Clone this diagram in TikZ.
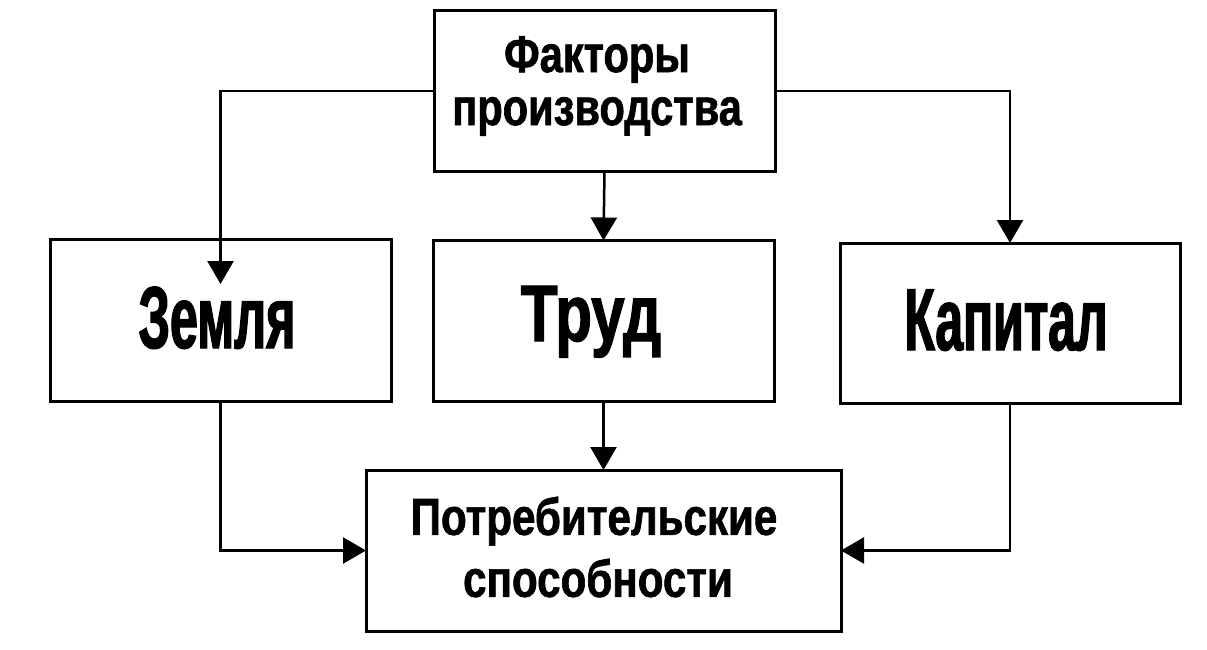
\documentclass[tikz,border=0pt]{standalone}
\usepackage{fontspec}
\setmainfont{Liberation Sans}
\newfontfamily\zemf{Liberation Sans Bold}[FakeStretch=0.57,FakeBold=1.5]
\newfontfamily\trudf{Liberation Sans Bold}[FakeStretch=0.75,FakeBold=1.5]
\newfontfamily\kapf{Liberation Sans Bold}[FakeStretch=0.566,FakeBold=1.5]
\newfontfamily\smallf{Liberation Sans Bold}[FakeStretch=0.8,FakeBold=1.2]
\newfontfamily\botf{Liberation Sans Bold}[FakeStretch=0.81,FakeBold=1.2]
\usetikzlibrary{arrows.meta}
\begin{document}
\begin{tikzpicture}[x=1pt,y=-1pt,
  box/.style={draw,line width=3pt,inner sep=0pt,outer sep=0pt},
  lbl/.style={inner sep=0pt,align=center},
  conn/.style={line width=2.5pt,-{Triangle[length=23pt,width=26pt]}}]
\useasboundingbox[fill=white] (0,0) rectangle (1207,650);
\node[box,minimum width=341pt,minimum height=160pt] (top) at (604.5,91) {};
\node[box,minimum width=341pt,minimum height=162pt] (zem) at (220.5,320) {};
\node[box,minimum width=341pt,minimum height=161pt] (trud) at (603.5,321) {};
\node[box,minimum width=340pt,minimum height=160pt] (kap) at (1010,323) {};
\node[box,minimum width=475pt,minimum height=161pt] (bot) at (603.5,550.5) {};
\node[lbl,font=\smallf\fontsize{52pt}{53pt}\selectfont] (toptext) at (597,86) {Факторы\\производства};
\node[lbl,anchor=base,font=\zemf\fontsize{88pt}{92pt}\selectfont] (zemtext) at (217,348) {Земля};
\node[lbl,anchor=base,font=\trudf\fontsize{80pt}{84pt}\selectfont] (trudtext) at (591,341) {Труд};
\node[lbl,anchor=base,font=\kapf\fontsize{88pt}{92pt}\selectfont] (kaptext) at (1006,350) {Капитал};
\node[lbl,font=\botf\fontsize{52pt}{62pt}\selectfont] (bottext) at (598,547) {Потребительские\kern8pt\\способности};
\coordinate (zemtip) at (220.5,284);
\draw[conn] (top.west) -| (zemtip);
\draw[conn] (top.east) -| (kap.north);
\draw[conn] (top.south) -- (trud.north);
\draw[conn] (trud.south) -- (bot.north);
\draw[conn] (zem.south) |- (bot.west);
\draw[conn] (kap.south) |- (bot.east);
\end{tikzpicture}
\end{document}
